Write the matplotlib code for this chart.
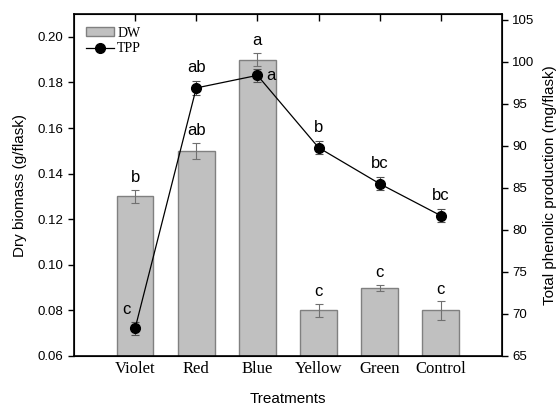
import matplotlib.pyplot as plt
from matplotlib.lines import Line2D
from matplotlib.patches import Patch
import numpy as np

# data
treatments = ["Violet", "Red", "Blue", "Yellow", "Green", "Control"]
dw = [0.130, 0.150, 0.190, 0.080, 0.090, 0.080]
dw_err = [0.003, 0.0035, 0.003, 0.003, 0.0013, 0.004]
dw_letters = ["b", "ab", "a", "c", "c", "c"]
tpp = [68.3, 96.9, 98.4, 89.8, 85.5, 81.7]
tpp_err = [0.8, 0.8, 0.8, 0.8, 0.8, 0.8]
tpp_letters = ["c", "ab", "a", "b", "bc", "bc"]

sans = "Liberation Sans"
serif = "Liberation Serif"

fig = plt.figure(figsize=(5.58, 4.05), dpi=100)
ax = fig.add_axes([0.1326, 0.121, 0.767, 0.8444])
ax2 = ax.twinx()

x = np.arange(len(treatments))
ax.bar(x, dw, width=0.6, color="#c0c0c0", edgecolor="#808080", linewidth=1.0,
       zorder=2)
ax.errorbar(x, dw, yerr=dw_err, fmt="none", ecolor="#707070", elinewidth=0.8,
            capsize=3, capthick=0.8, zorder=3)
for xi, v, e, lab in zip(x, dw, dw_err, dw_letters):
    ax.text(xi, v + e + 0.002, lab, ha="center", va="bottom", fontsize=12,
            family=sans)

ax2.errorbar(x, tpp, yerr=tpp_err, fmt="-o", color="black", ms=7, lw=0.9,
             ecolor="#505050", elinewidth=0.8, capsize=3, capthick=0.8,
             zorder=4)
offsets = [(-0.15, 1.3, "center", "bottom"), (0, 1.5, "center", "bottom"),
           (0.15, 0, "left", "center"), (0, 1.5, "center", "bottom"),
           (0, 1.5, "center", "bottom"), (0, 1.5, "center", "bottom")]
for xi, v, lab, (dx, dy, ha, va) in zip(x, tpp, tpp_letters, offsets):
    ax2.text(xi + dx, v + dy, lab, ha=ha, va=va, fontsize=12, family=sans)

ax.set_xlim(-1, 6)
ax.set_ylim(0.06, 0.21)
ax2.set_ylim(65, 105.7)
ax.set_yticks(np.arange(0.06, 0.201, 0.02))
ax.set_yticklabels([f"{t:.2f}" for t in np.arange(0.06, 0.201, 0.02)],
                   family=sans, fontsize=9.5)
ax2.set_yticks(np.arange(65, 106, 5))
ax2.set_yticklabels([str(t) for t in range(65, 106, 5)], family=sans,
                    fontsize=9.5)
ax.set_xticks(x)
ax.set_xticklabels(treatments, family=serif, fontsize=12)

ax.tick_params(axis="x", direction="in", top=True, length=5, width=1)
ax.tick_params(axis="y", direction="out", length=4, width=1)
ax2.tick_params(axis="y", direction="out", length=4, width=1)
for sp in ax2.spines.values():
    sp.set_linewidth(1.2)

ax.set_xlabel("Treatments", family=sans, fontsize=11, labelpad=11)
ax.set_ylabel("Dry biomass (g/flask)", family=sans, fontsize=11, labelpad=8)
ax2.set_ylabel("Total phenolic production (mg/flask)", family=sans,
               fontsize=11, labelpad=6)

handles = [Patch(facecolor="#c0c0c0", edgecolor="#808080", label="DW"),
           Line2D([], [], color="black", marker="o", ms=7, lw=0.9,
                  label="TPP")]
ax.legend(handles=handles, loc="upper left", frameon=False,
          prop={"family": serif, "size": 10}, handlelength=2.0,
          handleheight=0.6, borderaxespad=0.5, labelspacing=0.2,
          handletextpad=0.2)

fig.savefig("out.png", dpi=100)
